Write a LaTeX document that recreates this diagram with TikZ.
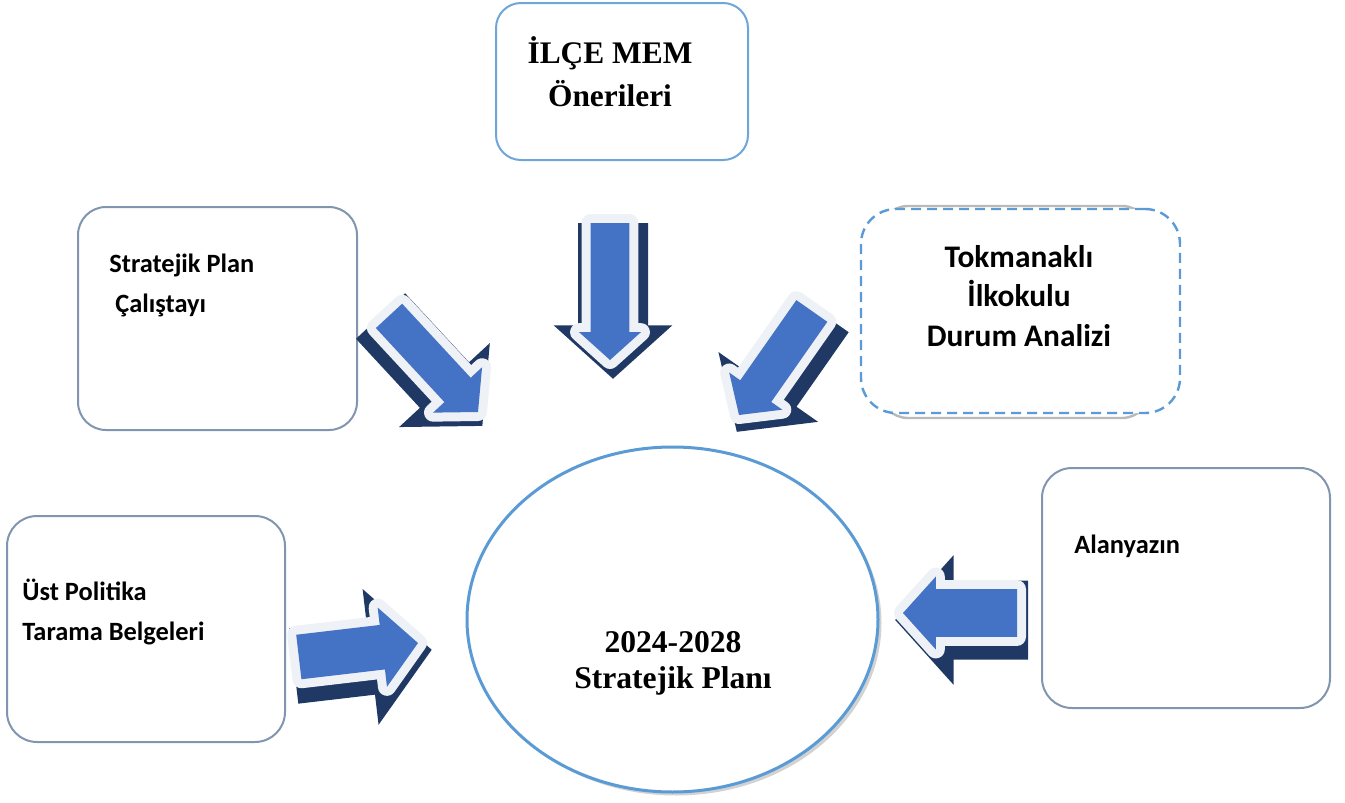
\documentclass[tikz,border=0pt]{standalone}
\usepackage{fontspec}
\setmainfont{Liberation Serif}
\newfontfamily\calibfont{Carlito}
\usetikzlibrary{shapes.geometric,shapes.arrows}

\definecolor{arrowblue}{HTML}{4472C4}
\definecolor{arrowshadecol}{HTML}{1F3864}
\definecolor{halocol}{HTML}{EEF1F6}
\definecolor{boxline}{HTML}{8196AE}
\definecolor{ilceline}{HTML}{6FA6DA}
\definecolor{planline}{HTML}{5B9BD5}

\tikzset{
  box/.style={draw=boxline, line width=1pt, rounded corners=14pt, fill=white, inner sep=0pt},
  bigarrow/.style n args={4}{single arrow, inner xsep=0pt, inner ysep=#2, outer sep=0pt, anchor=tip,
    single arrow tip angle=96, minimum height=#1,
    single arrow head extend=#3, rotate=#4},
  arrowshade/.style={fill=arrowshadecol, draw=arrowshadecol, line width=8pt, line join=miter},
  arrowbody/.style={fill=arrowblue, preaction={draw=halocol, line width=9pt, line join=round}},
  sidetext/.style={font=\calibfont\bfseries\fontsize{13.2}{19.7}\selectfont,
    align=left, anchor=base west, inner sep=0pt},
  titletext/.style={font=\bfseries\fontsize{15.8}{18}\selectfont,
    align=center, anchor=base, inner sep=0pt}
}

\begin{document}
\begin{tikzpicture}[x=0.5pt, y=-0.5pt]
  \useasboundingbox (0,0) rectangle (1345,803);

  % the five source boxes
  \node[box, draw=ilceline, rounded corners=12.5pt, minimum width=126pt, minimum height=78.5pt] (ilce) at (622,81.5) {};
  \node[box, minimum width=139.5pt, minimum height=111.5pt] (strat) at (217.5,318.5) {};
  \node[box, draw=gray!55, line width=1.2pt, minimum width=135pt, minimum height=106pt] (durumshade) at (1015,312) {};
  \node[box, draw=planline, line width=1.2pt, dash pattern=on 5pt off 3pt, rounded corners=17.5pt,
    minimum width=159.5pt, minimum height=102pt] (durum) at (1020.5,311) {};
  \node[box, rounded corners=15pt, minimum width=139pt, minimum height=113pt] (ust) at (146,629) {};
  \node[box, rounded corners=15pt, minimum width=144pt, minimum height=120pt] (alan) at (1186,588) {};

  % texts sit on the baseline of their last line
  \node[titletext, font=\bfseries\fontsize{15.7}{21.5}\selectfont] (ilcetext) at (610,106) {İLÇE MEM\\Önerileri};
  \node[sidetext] (strattext) at (109,312) {Stratejik Plan\\\hspace*{3pt}Çalıştayı};
  \node[sidetext, font=\calibfont\bfseries\fontsize{15.7}{19.7}\selectfont, align=center, anchor=base]
    (durumtext) at (1019,346) {Tokmanaklı\\İlkokulu\\Durum Analizi};
  \node[sidetext, font=\calibfont\bfseries\fontsize{13.2}{20}\selectfont] (usttext) at (22,640) {Üst Politika\\Tarama Belgeleri};
  \node[sidetext] (alantext) at (1074,553) {Alanyazın};

  % the plan in the middle
  \node[ellipse, fill=gray!35, inner sep=0pt, minimum width=205.5pt, minimum height=172.5pt] (planshade) at (676,623) {};
  \node[ellipse, draw=planline, line width=1.5pt, fill=white, inner sep=0pt,
    minimum width=205.5pt, minimum height=172.5pt] (plan) at (672.5,619.5) {};
  \node[titletext] (plantext) at (673,688) {2024-2028\\Stratejik Planı};

  % block arrows
  \node[bigarrow={65.5pt}{8.75pt}{7.75pt}{-47.2}, arrowshade] (stratshade) at (475,418) {};
  \node[bigarrow={65.5pt}{8.75pt}{7.75pt}{-47.2}, arrowbody] (stratarrow) at (478,412) {};

  \node[bigarrow={68.5pt}{9.5pt}{5.75pt}{-90}, arrowshade] (ilceshade) at (613,368) {};
  \node[bigarrow={68.5pt}{9.5pt}{5.75pt}{-90}, arrowbody] (ilcearrow) at (610,360) {};

  \node[bigarrow={63.5pt}{9.25pt}{6.75pt}{-125}, arrowshade] (durumshadearrow) at (743,423) {};
  \node[bigarrow={63.5pt}{9.25pt}{6.75pt}{-125}, arrowbody] (durumarrow) at (739,415) {};

  \node[bigarrow={60pt}{11pt}{8.75pt}{6.7}, arrowshade] (ustshade) at (421,651) {};
  \node[bigarrow={60pt}{11pt}{8.75pt}{6.7}, arrowbody] (ustarrow) at (418,643) {};

  \node[bigarrow={57pt}{11.75pt}{6.25pt}{180}, arrowshade] (alanshade) at (906,620) {};
  \node[bigarrow={57pt}{11.75pt}{6.25pt}{180}, arrowbody] (alanarrow) at (903,613) {};
\end{tikzpicture}
\end{document}
